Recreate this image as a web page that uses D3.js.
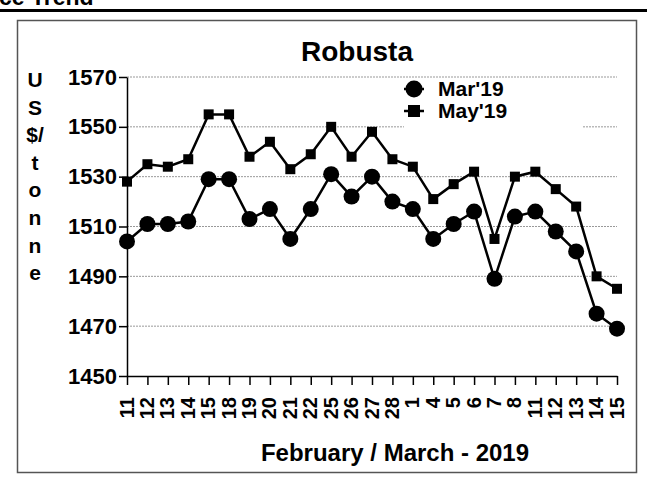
<!DOCTYPE html>
<html>
  <head>
    <meta charset="utf-8" />
    <title>Robusta</title>
    <script src="https://cdn.jsdelivr.net/npm/d3@7/dist/d3.min.js"></script>
    <style>
      body { margin: 0; background: #fff; }
      svg text { font-family: "Liberation Sans", Arial, sans-serif; font-weight: bold; fill: #000; }
    </style>
  </head>
  <body>
    <script>
      // tick labels on the date axis (Feb 11 .. Mar 15, 2019)
      const days = ["11", "12", "13", "14", "15", "18", "19", "20", "21", "22", "25", "26", "27", "28",
                    "1", "4", "5", "6", "7", "8", "11", "12", "13", "14", "15"];
      const mar19 = [1504, 1511, 1511, 1512, 1529, 1529, 1513, 1517, 1505, 1517, 1531, 1522, 1530,
                     1520, 1517, 1505, 1511, 1516, 1489, 1514, 1516, 1508, 1500, 1475, 1469];
      const may19 = [1528, 1535, 1534, 1537, 1555, 1555, 1538, 1544, 1533, 1539, 1550, 1538, 1548,
                     1537, 1534, 1521, 1527, 1532, 1505, 1530, 1532, 1525, 1518, 1490, 1485];
      const yTicks = [1450, 1470, 1490, 1510, 1530, 1550, 1570];
      const yLetters = ["U", "S", "$/", "t", "o", "n", "n", "e"];

      const w = 647;
      const h = 485;

      const svg = d3.select("body").append("svg")
        .attr("width", w)
        .attr("height", h);

      // clipped page header + rule
      svg.append("text").attr("x", -1).attr("y", 5).style("font-size", "23px").text("ce Trend");
      svg.append("rect").attr("x", 0).attr("y", 9).attr("width", w).attr("height", 3).attr("fill", "#000");

      // chart frame
      svg.append("rect")
        .attr("x", 17.5).attr("y", 20.5).attr("width", 619).attr("height", 452)
        .attr("fill", "none").attr("stroke", "#555").attr("stroke-width", 1.5);

      const x = d3.scalePoint().domain(d3.range(days.length)).range([127, 617]);
      const y = d3.scaleLinear().domain([1450, 1570]).range([376, 77]);

      // grid
      svg.append("g").selectAll("line")
        .data(yTicks.slice(1))
        .enter().append("line")
        .attr("x1", 127).attr("x2", 617)
        .attr("y1", d => y(d)).attr("y2", d => y(d))
        .attr("stroke", "#999").attr("stroke-width", 1).attr("stroke-dasharray", "2,1");

      const yAxis = d3.axisLeft(y).tickValues(yTicks).tickSize(8).tickSizeOuter(0).tickPadding(2)
        .tickFormat(d3.format("d"));
      const gy = svg.append("g").attr("transform", "translate(127,0)").call(yAxis);
      gy.selectAll("text").style("font-size", "22px");

      const xAxis = d3.axisBottom(x).tickSize(9).tickSizeOuter(0).tickFormat(i => days[i]);
      const gx = svg.append("g").attr("transform", "translate(0,376)").call(xAxis);
      gx.selectAll("text")
        .style("font-size", "20px")
        .attr("transform", "rotate(-90)")
        .attr("text-anchor", "end")
        .attr("x", -21).attr("y", 0).attr("dy", "0.3em");

      [gx, gy].forEach(g => {
        g.selectAll("path, line").attr("stroke", "#000").attr("stroke-width", 1.5);
      });

      // series
      const line = d3.line().x((d, i) => x(i)).y(d => y(d));
      svg.append("path").datum(may19).attr("d", line)
        .attr("fill", "none").attr("stroke", "#000").attr("stroke-width", 2.5);
      svg.append("path").datum(mar19).attr("d", line)
        .attr("fill", "none").attr("stroke", "#000").attr("stroke-width", 2.5);

      svg.append("g").selectAll("rect")
        .data(may19).enter().append("rect")
        .attr("x", (d, i) => x(i) - 5).attr("y", d => y(d) - 5)
        .attr("width", 10).attr("height", 10).attr("fill", "#000");
      svg.append("g").selectAll("circle")
        .data(mar19).enter().append("circle")
        .attr("cx", (d, i) => x(i)).attr("cy", d => y(d)).attr("r", 8).attr("fill", "#000");

      // title
      svg.append("text").attr("x", 357).attr("y", 61).attr("text-anchor", "middle")
        .style("font-size", "28px").text("Robusta");

      // y label, one letter per row
      svg.append("g").selectAll("text")
        .data(yLetters).enter().append("text")
        .attr("x", 35).attr("y", (d, i) => 87 + i * 27.6)
        .attr("text-anchor", "middle").style("font-size", "21px")
        .text(d => d);

      svg.append("text").attr("x", 395).attr("y", 461).attr("text-anchor", "middle")
        .style("font-size", "24px").text("February / March - 2019");

      // legend
      const lg = svg.append("g");
      lg.append("rect").attr("x", 404).attr("y", 80).attr("width", 178).attr("height", 50).attr("fill", "#fff");
      lg.append("line").attr("x1", 404).attr("x2", 424).attr("y1", 89).attr("y2", 89)
        .attr("stroke", "#000").attr("stroke-width", 2.5);
      lg.append("circle").attr("cx", 414).attr("cy", 89).attr("r", 8.5).attr("fill", "#000");
      lg.append("text").attr("x", 438).attr("y", 96).style("font-size", "21px").text("Mar'19");
      lg.append("line").attr("x1", 404).attr("x2", 424).attr("y1", 111).attr("y2", 111)
        .attr("stroke", "#000").attr("stroke-width", 2.5);
      lg.append("rect").attr("x", 408).attr("y", 105).attr("width", 12).attr("height", 12).attr("fill", "#000");
      lg.append("text").attr("x", 438).attr("y", 118).style("font-size", "21px").text("May'19");
    </script>
  </body>
</html>
